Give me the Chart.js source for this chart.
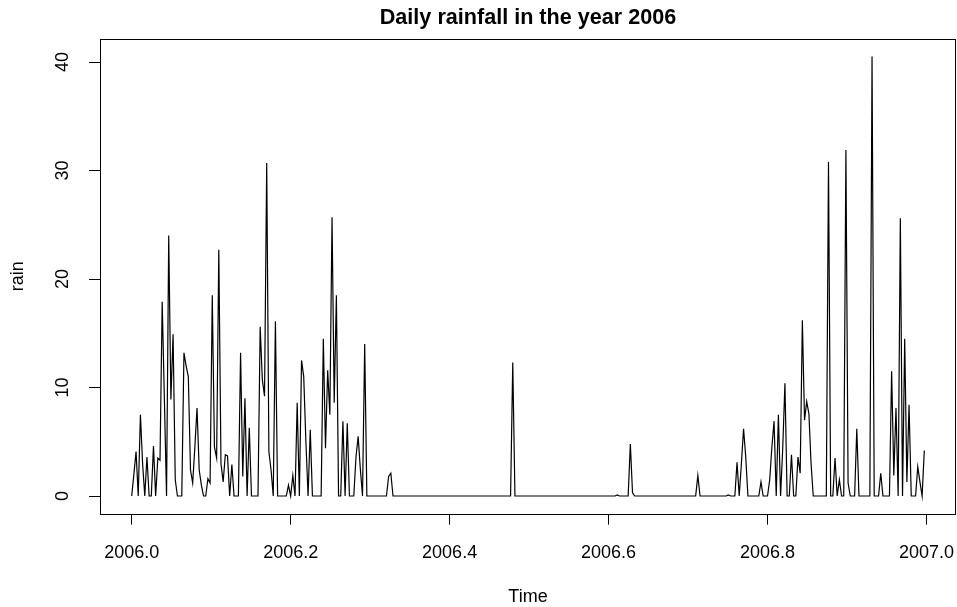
<!DOCTYPE html>
<html>
<head>
<meta charset="utf-8">
<script src="https://cdn.jsdelivr.net/npm/chart.js@4.4.0/dist/chart.umd.min.js"></script>
<style>
  html, body { margin: 0; padding: 0; background: #ffffff; }
  #wrap { width: 957px; height: 607px; }
</style>
</head>
<body>
<div id="wrap"><canvas id="rainChart" width="957" height="607"></canvas></div>
<script>
// serie diaria (ts, frequencia 365)
const startYear = 2006;
const freq = 365;
const rain = [
  0, 2.0, 4.1, 0, 7.5, 3.0, 0, 3.6, 0, 0, 4.6, 0, 3.5, 3.3, 17.9, 9.0, 0, 24.0, 8.9, 14.9,
  1.5, 0, 0, 0, 13.2, 12.0, 11.0, 2.4, 1.2, 4.5, 8.1, 2.4, 1.0, 0, 0, 1.6, 1.2, 18.5, 4.5, 3.5,
  22.7, 3.0, 1.3, 3.8, 3.7, 0, 2.9, 0, 0, 0, 13.2, 1.8, 9.0, 0, 6.3, 0, 0, 0, 0, 15.6,
  10.7, 9.2, 30.7, 4.1, 2.4, 0, 16.1, 0, 0, 0, 0, 0, 1.0, 0, 1.9, 0, 8.6, 0, 12.5, 11.0,
  5.0, 0, 6.1, 0, 0, 0, 0, 0, 14.5, 4.4, 11.6, 7.5, 25.7, 8.6, 18.5, 0, 0, 6.9, 0, 6.7,
  0, 0, 0, 3.6, 5.5, 2.5, 0, 14.0, 0, 0, 0, 0, 0, 0, 0, 0, 0, 0, 1.8, 2.1,
  0, 0, 0, 0, 0, 0, 0, 0, 0, 0, 0, 0, 0, 0, 0, 0, 0, 0, 0, 0,
  0, 0, 0, 0, 0, 0, 0, 0, 0, 0, 0, 0, 0, 0, 0, 0, 0, 0, 0, 0,
  0, 0, 0, 0, 0, 0, 0, 0, 0, 0, 0, 0, 0, 0, 0, 12.3, 0, 0, 0, 0,
  0, 0, 0, 0, 0, 0, 0, 0, 0, 0, 0, 0, 0, 0, 0, 0, 0, 0, 0, 0,
  0, 0, 0, 0, 0, 0, 0, 0, 0, 0, 0, 0, 0, 0, 0, 0, 0, 0, 0, 0,
  0, 0, 0, 0.1, 0, 0, 0, 0, 0, 4.8, 0.3, 0, 0, 0, 0, 0, 0, 0, 0, 0,
  0, 0, 0, 0, 0, 0, 0, 0, 0, 0, 0, 0, 0, 0, 0, 0, 0, 0, 0, 0,
  1.9, 0, 0, 0, 0, 0, 0, 0, 0, 0, 0, 0, 0, 0, 0.1, 0, 0, 0, 3.1, 0,
  3.0, 6.2, 3.6, 0, 0, 0, 0, 0, 0, 1.3, 0, 0, 0, 1.5, 4.5, 6.9, 0, 7.5, 0, 4.5,
  10.4, 0, 0, 3.8, 0, 0, 3.6, 2.1, 16.2, 7.0, 8.7, 7.6, 3.0, 0, 0, 0, 0, 0, 0, 0,
  30.8, 0, 0, 3.5, 0, 1.5, 0, 0, 31.9, 1.2, 0, 0, 0, 6.2, 0, 0, 0, 0, 0, 0,
  40.5, 0, 0, 0, 2.1, 0, 0, 0, 0, 11.5, 1.9, 8.1, 0, 25.6, 0, 14.5, 1.3, 8.4, 0, 0,
  0, 2.7, 1.3, 0, 4.2
];
const xTicks = [2006.0, 2006.2, 2006.4, 2006.6, 2006.8, 2007.0];
const yTicks = [0, 10, 20, 30, 40];
const chartTitle = 'Daily rainfall in the year 2006';
const xTitle = 'Time';
const yTitle = 'rain';

document.addEventListener('DOMContentLoaded', function() {
    const fontFamily = '"Liberation Sans", Arial, Helvetica, sans-serif';
    Chart.defaults.font.family = fontFamily;

    const pontos = rain.map((v, i) => ({ x: startYear + i / freq, y: v }));

    // limites como no R (4% de folga em cada lado)
    const xLo = startYear, xHi = startYear + (rain.length - 1) / freq;
    const xPad = 0.04 * (xHi - xLo);
    const yLo = Math.min(...rain), yHi = Math.max(...rain);
    const yPad = 0.04 * (yHi - yLo);

    // caixa, titulos e rotulos do eixo y no estilo base do R
    const estiloR = {
        id: 'estiloR',
        afterDraw(chart) {
            const ctx = chart.ctx;
            const a = chart.chartArea;
            const yScale = chart.scales.y;
            ctx.save();
            ctx.strokeStyle = '#000';
            ctx.lineWidth = 1;
            ctx.strokeRect(Math.round(a.left) + 0.5, Math.round(a.top) + 0.5,
                Math.round(a.right - a.left) - 1, Math.round(a.bottom - a.top));

            ctx.fillStyle = '#000';
            ctx.textAlign = 'center';
            ctx.textBaseline = 'middle';
            ctx.font = 'bold 21.6px ' + fontFamily;
            ctx.fillText(chartTitle, (a.left + a.right) / 2, 18);

            ctx.font = '18px ' + fontFamily;
            ctx.fillText(xTitle, (a.left + a.right) / 2, 597);

            ctx.save();
            ctx.translate(18, (a.top + a.bottom) / 2);
            ctx.rotate(-Math.PI / 2);
            ctx.fillText(yTitle, 0, 0);
            ctx.restore();

            yTicks.forEach(t => {
                const py = yScale.getPixelForValue(t);
                ctx.save();
                ctx.translate(63, py);
                ctx.rotate(-Math.PI / 2);
                ctx.fillText(String(t), 0, 0);
                ctx.restore();
            });
            ctx.restore();
        }
    };

    const canvas = document.getElementById('rainChart');
    new Chart(canvas.getContext('2d'), {
        type: 'line',
        data: {
            datasets: [{
                data: pontos,
                borderColor: '#000000',
                borderWidth: 1.2,
                pointRadius: 0,
                tension: 0,
                fill: false
            }]
        },
        options: {
            animation: false,
            responsive: false,
            devicePixelRatio: 1,
            layout: { padding: { top: 39, right: 1, left: 0, bottom: 0 } },
            plugins: {
                legend: { display: false },
                tooltip: { enabled: false },
                title: { display: false }
            },
            scales: {
                x: {
                    type: 'linear',
                    min: xLo - xPad,
                    max: xHi + xPad,
                    afterBuildTicks: s => { s.ticks = xTicks.map(v => ({ value: v })); },
                    afterFit: s => { s.height = 93.4; s.paddingLeft = 0; s.paddingRight = 0; },
                    ticks: {
                        callback: v => Number(v).toFixed(1),
                        color: '#000',
                        font: { size: 18 },
                        padding: 18,
                        maxRotation: 0,
                        autoSkip: false
                    },
                    grid: { drawOnChartArea: false, tickLength: 11, color: '#000', tickColor: '#000' },
                    border: { display: false }
                },
                y: {
                    type: 'linear',
                    min: yLo - yPad,
                    max: yHi + yPad,
                    afterBuildTicks: s => { s.ticks = yTicks.map(v => ({ value: v })); },
                    afterFit: s => { s.width = 100; s.paddingTop = 0; s.paddingBottom = 0; },
                    ticks: { display: false },
                    grid: { drawOnChartArea: false, tickLength: 11, color: '#000', tickColor: '#000' },
                    border: { display: false }
                }
            }
        },
        plugins: [estiloR]
    });
});
</script>
</body>
</html>
